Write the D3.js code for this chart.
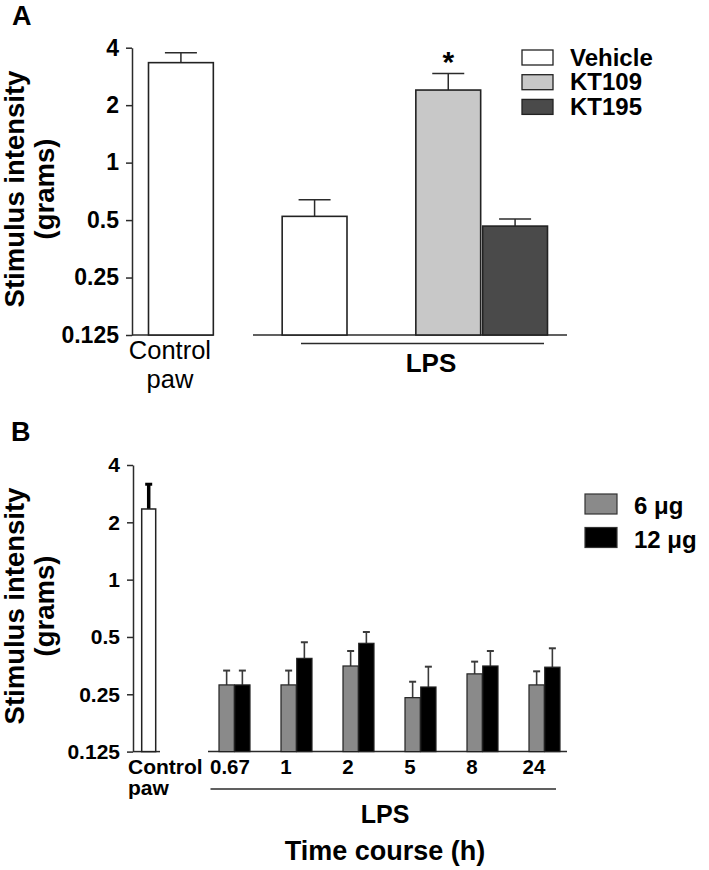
<!DOCTYPE html>
<html>
<head>
<meta charset="utf-8">
<script src="https://cdn.jsdelivr.net/npm/d3@7"></script>
<style>
  html, body { margin: 0; padding: 0; background: #fff; }
  svg { display: block; font-family: "Liberation Sans", Arial, Helvetica, sans-serif; }
</style>
</head>
<body>
<svg id="chart" width="709" height="870"></svg>
<script>
// ---------- DATA ----------
const yTickValues = [0.125, 0.25, 0.5, 1, 2, 4];
const yTickLabels = ["0.125", "0.25", "0.5", "1", "2", "4"];

// Panel A
const aCategories = ["Control paw", "Vehicle", "KT109", "KT195"];
const aMeans      = [3.34, 0.523, 2.40, 0.465];
const aUpper      = [3.76, 0.639, 2.93, 0.506];
const aLegend     = ["Vehicle", "KT109", "KT195"];
const aSignificant = [false, false, true, false];

// Panel B
const bControlMean  = 2.35;
const bControlUpper = 3.17;
const bTimePoints   = ["0.67", "1", "2", "5", "8", "24"];
const bDoses        = ["6 μg", "12 μg"];
const b6Means  = [0.280, 0.280, 0.352, 0.240, 0.320, 0.280];
const b6Upper  = [0.333, 0.333, 0.422, 0.291, 0.371, 0.330];
const b12Means = [0.280, 0.386, 0.463, 0.273, 0.352, 0.347];
const b12Upper = [0.333, 0.469, 0.531, 0.349, 0.422, 0.436];

// ---------- STYLE ----------
const FONT = '"Liberation Sans", Arial, Helvetica, sans-serif';
const AX = "#2b2b2b";
const aFill = {"Control paw": "#ffffff", "Vehicle": "#ffffff", "KT109": "#c8c8c8", "KT195": "#4a4a4a"};
const bFill = {"6 μg": "#8a8a8a", "12 μg": "#000000"};

const svg = d3.select("#chart");

function yAxis(g, scale, fontSize) {
  g.call(d3.axisLeft(scale)
      .tickValues(yTickValues)
      .tickFormat((d, i) => yTickLabels[i])
      .tickSize(6).tickSizeOuter(0).tickPadding(7));
  g.select(".domain").attr("stroke", AX).attr("stroke-width", 1.5);
  g.selectAll(".tick line").attr("stroke", AX).attr("stroke-width", 1.5);
  g.selectAll(".tick text").attr("fill", "#000").attr("font-family", FONT)
    .attr("font-weight", "bold").attr("font-size", fontSize);
}

function yTitle(cx, cy) {
  const t = svg.append("g").attr("transform", `translate(${cx},${cy}) rotate(-90)`);
  t.append("text").attr("text-anchor", "middle").attr("y", 0)
    .attr("font-weight", "bold").attr("font-size", 27.5).text("Stimulus intensity");
  t.append("text").attr("text-anchor", "middle").attr("y", 30)
    .attr("font-weight", "bold").attr("font-size", 27.5).text("(grams)");
}

// ================= PANEL A =================
const yA = d3.scaleLog().base(2).domain([0.125, 4]).range([335, 47.7]);
const slotA = {"Control paw": "s0", "Vehicle": "s2", "KT109": "s4", "KT195": "s5"};
const xA = d3.scaleBand().domain(["s0", "s1", "s2", "s3", "s4", "s5"]).range([148.5, 547.5]).paddingInner(0.03).paddingOuter(0);

svg.append("text").attr("x", 12).attr("y", 25).attr("font-weight", "bold").attr("font-size", 27).text("A");

yAxis(svg.append("g").attr("transform", "translate(132,0)"), yA, 23);
yTitle(24, 189);

// baselines
svg.append("line").attr("x1", 132).attr("x2", xA(slotA["Control paw"]) + xA.bandwidth()).attr("y1", yA(0.125)).attr("y2", yA(0.125)).attr("stroke", AX).attr("stroke-width", 1.5);
svg.append("line").attr("x1", 253).attr("x2", 567).attr("y1", yA(0.125)).attr("y2", yA(0.125)).attr("stroke", AX).attr("stroke-width", 1.5);
svg.append("line").attr("x1", 301).attr("x2", 544).attr("y1", 343.5).attr("y2", 343.5).attr("stroke", AX).attr("stroke-width", 1.5);

const aData = aCategories.map((c, i) => ({c, m: aMeans[i], u: aUpper[i], sig: aSignificant[i]}));
const gA = svg.append("g");
gA.selectAll("line.err").data(aData).join("line").attr("class", "err")
  .attr("x1", d => xA(slotA[d.c]) + xA.bandwidth() / 2).attr("x2", d => xA(slotA[d.c]) + xA.bandwidth() / 2)
  .attr("y1", d => yA(d.m)).attr("y2", d => yA(d.u)).attr("stroke", AX).attr("stroke-width", 1.5);
gA.selectAll("line.cap").data(aData).join("line").attr("class", "cap")
  .attr("x1", d => xA(slotA[d.c]) + xA.bandwidth() / 2 - 16).attr("x2", d => xA(slotA[d.c]) + xA.bandwidth() / 2 + 16)
  .attr("y1", d => yA(d.u)).attr("y2", d => yA(d.u)).attr("stroke", AX).attr("stroke-width", 1.5);
gA.selectAll("rect").data(aData).join("rect")
  .attr("x", d => xA(slotA[d.c])).attr("width", xA.bandwidth())
  .attr("y", d => yA(d.m)).attr("height", d => yA(0.125) - yA(d.m))
  .attr("fill", d => aFill[d.c]).attr("stroke", "#222").attr("stroke-width", 1.6);
gA.selectAll("text.sig").data(aData.filter(d => d.sig)).join("text").attr("class", "sig")
  .attr("x", d => xA(slotA[d.c]) + xA.bandwidth() / 2).attr("y", d => yA(d.u) - 2)
  .attr("text-anchor", "middle").attr("font-weight", "bold").attr("font-size", 30).text("*");

// x labels A
svg.append("text").attr("x", xA(slotA["Control paw"]) + xA.bandwidth() / 2 - 11).attr("y", 359)
  .attr("text-anchor", "middle").attr("font-size", 25.5).text("Control");
svg.append("text").attr("x", xA(slotA["Control paw"]) + xA.bandwidth() / 2 - 11).attr("y", 388)
  .attr("text-anchor", "middle").attr("font-size", 25.5).text("paw");
svg.append("text").attr("x", 431).attr("y", 372).attr("text-anchor", "middle")
  .attr("font-weight", "bold").attr("font-size", 26).text("LPS");

// legend A
const legA = svg.append("g").attr("transform", "translate(522,50)");
aLegend.forEach((k, i) => {
  const gy = i * 24.7;
  legA.append("rect").attr("x", 0).attr("y", gy).attr("width", 31).attr("height", 15)
    .attr("fill", aFill[k]).attr("stroke", "#222").attr("stroke-width", 1.3);
  legA.append("text").attr("x", 48).attr("y", gy + 15.5).attr("font-weight", "bold").attr("font-size", 24).text(k);
});

// ================= PANEL B =================
const yB = d3.scaleLog().base(2).domain([0.125, 4]).range([751.6, 465]);
const xB = d3.scaleBand().domain(bTimePoints).range([203.5, 575.5]).padding(0);
const xSub = d3.scaleBand().domain(bDoses).range([-15.5, 15.5]).paddingInner(0.03);

svg.append("text").attr("x", 11).attr("y", 441).attr("font-weight", "bold").attr("font-size", 27).text("B");

yAxis(svg.append("g").attr("transform", "translate(133,0)"), yB, 21);
yTitle(24, 606);

// baselines
svg.append("line").attr("x1", 133).attr("x2", 160).attr("y1", yB(0.125)).attr("y2", yB(0.125)).attr("stroke", AX).attr("stroke-width", 1.5);
svg.append("line").attr("x1", 208).attr("x2", 567).attr("y1", yB(0.125)).attr("y2", yB(0.125)).attr("stroke", AX).attr("stroke-width", 1.5);
svg.append("line").attr("x1", 210.5).attr("x2", 556).attr("y1", 789).attr("y2", 789).attr("stroke", AX).attr("stroke-width", 1.5);

// control bar B
const cbx = 141.7, cbw = 14;
svg.append("line").attr("x1", cbx + cbw / 2).attr("x2", cbx + cbw / 2)
  .attr("y1", yB(bControlMean)).attr("y2", yB(bControlUpper)).attr("stroke", "#000").attr("stroke-width", 3.5);
svg.append("line").attr("x1", cbx + cbw / 2 - 3.5).attr("x2", cbx + cbw / 2 + 3.5)
  .attr("y1", yB(bControlUpper)).attr("y2", yB(bControlUpper)).attr("stroke", "#000").attr("stroke-width", 3);
svg.append("rect").attr("x", cbx).attr("width", cbw).attr("y", yB(bControlMean))
  .attr("height", yB(0.125) - yB(bControlMean)).attr("fill", "#fff").attr("stroke", "#222").attr("stroke-width", 1.5);

const bData = [];
bTimePoints.forEach((t, i) => {
  bData.push({t, dose: bDoses[0], m: b6Means[i], u: b6Upper[i]});
  bData.push({t, dose: bDoses[1], m: b12Means[i], u: b12Upper[i]});
});
const cx = d => xB(d.t) + xB.bandwidth() / 2 + xSub(d.dose) + xSub.bandwidth() / 2;
const gB = svg.append("g");
gB.selectAll("line.err").data(bData).join("line").attr("class", "err")
  .attr("x1", cx).attr("x2", cx).attr("y1", d => yB(d.m)).attr("y2", d => yB(d.u))
  .attr("stroke", "#3a3a3a").attr("stroke-width", 1.6);
gB.selectAll("line.cap").data(bData).join("line").attr("class", "cap")
  .attr("x1", d => cx(d) - 3.5).attr("x2", d => cx(d) + 3.5).attr("y1", d => yB(d.u)).attr("y2", d => yB(d.u))
  .attr("stroke", "#3a3a3a").attr("stroke-width", 2);
gB.selectAll("rect").data(bData).join("rect")
  .attr("x", d => xB(d.t) + xB.bandwidth() / 2 + xSub(d.dose)).attr("width", xSub.bandwidth())
  .attr("y", d => yB(d.m)).attr("height", d => yB(0.125) - yB(d.m))
  .attr("fill", d => bFill[d.dose]).attr("stroke", "#222").attr("stroke-width", 1.2);

// x labels B
svg.selectAll("text.tp").data(bTimePoints).join("text").attr("class", "tp")
  .attr("x", (d, i) => i === 0 ? 210 : xB(d) + xB.bandwidth() / 2 - 10.5).attr("y", 774)
  .attr("text-anchor", (d, i) => i === 0 ? "start" : "middle")
  .attr("font-weight", "bold").attr("font-size", 20.5).text(d => d);
svg.append("text").attr("x", 128).attr("y", 774).attr("font-weight", "bold").attr("font-size", 21).text("Control");
svg.append("text").attr("x", 128).attr("y", 795).attr("font-weight", "bold").attr("font-size", 21).text("paw");
svg.append("text").attr("x", 385).attr("y", 823).attr("text-anchor", "middle")
  .attr("font-weight", "bold").attr("font-size", 25).text("LPS");
svg.append("text").attr("x", 385).attr("y", 860).attr("text-anchor", "middle")
  .attr("font-weight", "bold").attr("font-size", 27).text("Time course (h)");

// legend B
const legB = svg.append("g").attr("transform", "translate(585,494)");
bDoses.forEach((k, i) => {
  const gy = i * 33.5;
  legB.append("rect").attr("x", 0).attr("y", gy).attr("width", 32).attr("height", 20)
    .attr("fill", bFill[k]).attr("stroke", "#333").attr("stroke-width", 1.2);
  legB.append("text").attr("x", 49).attr("y", gy + 20).attr("font-weight", "bold").attr("font-size", 24).text(k);
});
</script>
</body>
</html>
